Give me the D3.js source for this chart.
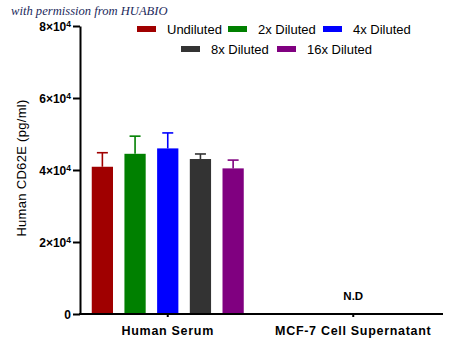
<!DOCTYPE html>
<html><head><meta charset="utf-8">
<script src="https://cdn.jsdelivr.net/npm/d3@7"></script>
<style>body{margin:0;background:#fff}svg{display:block}</style>
</head><body>
<svg id="c" width="450" height="351"></svg>
<script>
const samples = ["Human Serum", "MCF-7 Cell Supernatant"];
const dilutions = ["Undiluted", "2x Diluted", "4x Diluted", "8x Diluted", "16x Diluted"];
const colors = ["#a00000", "#008000", "#0000ff", "#333333", "#800080"];
const serumMeans = [40900, 44500, 46000, 43050, 40450];
const serumErrors = [3900, 4900, 4300, 1400, 2300];
const yTicks = [0, 20000, 40000, 60000, 80000];
const yTickMant = ["", "2", "4", "6", "8"];
const ndLabel = "N.D";

const FONT = "'Liberation Sans', Arial, sans-serif";
const svg = d3.select("#c");
const x0 = d3.scaleBand().domain(samples).range([75, 446]).paddingInner(0).paddingOuter(0);
const y = d3.scaleLinear().domain([0, 80000]).range([314, 26]);
const groupW = 152;
const x1 = d3.scaleBand().domain(dilutions).range([0, groupW]).paddingInner(0.35).paddingOuter(0);

// watermark
svg.append("text").attr("x", 11).attr("y", 15)
  .attr("font-family", "'Liberation Serif', serif").attr("font-style", "italic")
  .attr("font-size", 12.6).attr("fill", "#1c2a5c").text("with permission from HUABIO");

// bars
const g = svg.append("g");
const data = dilutions.map((d, i) => ({d, v: serumMeans[i], e: serumErrors[i], c: colors[i]}));
const gx = x0("Human Serum") + x0.bandwidth() / 2 - groupW / 2;
data.forEach(o => {
  const bx = gx + x1(o.d);
  const cx = bx + x1.bandwidth() / 2;
  g.append("line").attr("x1", cx).attr("x2", cx).attr("y1", y(o.v)).attr("y2", y(o.v + o.e))
    .attr("stroke", o.c).attr("stroke-width", 1.6);
  g.append("line").attr("x1", cx - 5.5).attr("x2", cx + 5.5).attr("y1", y(o.v + o.e)).attr("y2", y(o.v + o.e))
    .attr("stroke", o.c).attr("stroke-width", 1.6);
  g.append("rect").attr("x", bx).attr("y", y(o.v)).attr("width", x1.bandwidth())
    .attr("height", y(0) - y(o.v)).attr("fill", o.c);
});

// N.D label
svg.append("text").attr("x", x0(samples[1]) + x0.bandwidth() / 2).attr("y", 300)
  .attr("text-anchor", "middle").attr("font-family", FONT)
  .attr("font-weight", "bold").attr("font-size", 11.5).attr("fill", "#000").text(ndLabel);

// y axis
const yAxis = d3.axisLeft(y).tickValues(yTicks).tickSize(7).tickSizeOuter(0).tickFormat("");
const ya = svg.append("g").attr("transform", "translate(80,0)").call(yAxis);
ya.select(".domain").attr("stroke", "#000").attr("stroke-width", 2);
ya.selectAll(".tick line").attr("stroke", "#000").attr("stroke-width", 2);
ya.selectAll(".tick").each(function(d, i) {
  const t = d3.select(this).append("text").attr("x", -9).attr("y", 0).attr("dy", "0.36em")
    .attr("text-anchor", "end").attr("font-family", FONT).attr("font-weight", "bold")
    .attr("font-size", 12).attr("fill", "#000");
  if (d === 0) { t.text("0"); return; }
  t.append("tspan").text(yTickMant[i] + "×10");
  t.append("tspan").attr("font-size", 8.5).attr("dy", "-0.45em").text("4");
});

// x axis
const xAxis = d3.axisBottom(x0).tickSize(3).tickSizeOuter(0);
const xa = svg.append("g").attr("transform", "translate(0,314)").call(xAxis);
xa.select(".domain").attr("d", "M79,0H443").attr("stroke", "#000").attr("stroke-width", 2);
xa.selectAll(".tick line").attr("stroke", "#000").attr("stroke-width", 2);
xa.selectAll(".tick text").attr("font-family", FONT).attr("letter-spacing", 0.7)
  .attr("font-weight", "bold").attr("font-size", 12.5).attr("fill", "#000").attr("y", 12).attr("dy", "0.71em");

// y label
svg.append("text").attr("transform", "translate(26,168) rotate(-90)")
  .attr("text-anchor", "middle").attr("font-family", FONT).attr("letter-spacing", 0.3)
  .attr("font-size", 13).attr("fill", "#000").text("Human CD62E (pg/ml)");

// legend
const legendPos = [[137, 29], [228, 29], [323, 29], [181, 49], [277, 49]];
dilutions.forEach((d, i) => {
  const [lx, ly] = legendPos[i];
  svg.append("rect").attr("x", lx).attr("y", ly - 3).attr("width", 19).attr("height", 6).attr("fill", colors[i]);
  svg.append("text").attr("x", lx + 30).attr("y", ly).attr("dy", "0.35em")
    .attr("font-family", FONT).attr("font-size", 13)
    .attr("fill", "#000").text(d);
});
</script>
</body></html>
